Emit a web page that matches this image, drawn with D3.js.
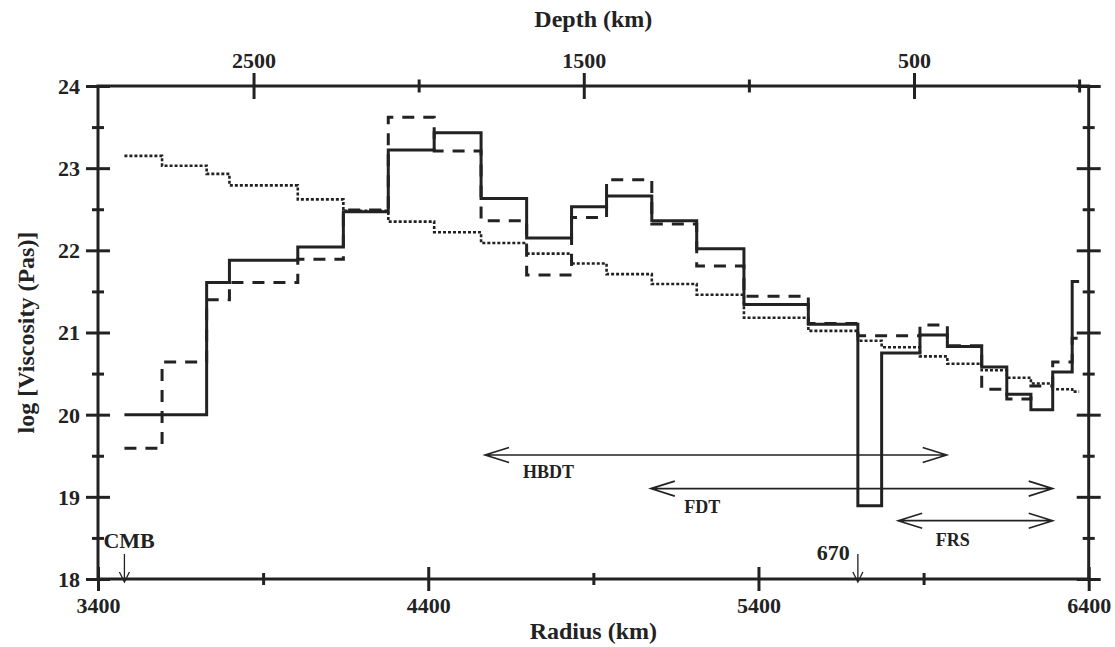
<!DOCTYPE html>
<html>
<head>
<meta charset="utf-8">
<script src="https://cdn.jsdelivr.net/npm/d3@7"></script>
<style>
  body { margin: 0; background: #fff; }
  svg text { font-family: "Liberation Serif", "Times New Roman", serif; font-weight: bold; fill: #222; }
</style>
</head>
<body>
<svg id="chart" width="1115" height="647"></svg>
<script>
// layer boundaries (radius, km) and log viscosity per layer
var layerTops = [3480, 3594, 3729, 3798, 4005, 4143, 4279, 4418, 4560, 4698, 4834, 4940,
  5077, 5213, 5356, 5551, 5701, 5773, 5889, 5972, 6076, 6152, 6225, 6291, 6350, 6371];
var solidValues = [20.00, 20.00, 21.61, 21.88, 22.04, 22.47, 23.22, 23.43, 22.63, 22.15, 22.53, 22.66,
  22.36, 22.02, 21.34, 21.10, 18.89, 20.75, 20.97, 20.83, 20.58, 20.25, 20.06, 20.52, 21.62];
var dashedValues = [19.59, 20.64, 21.40, 21.61, 21.89, 22.49, 23.62, 23.21, 22.36, 21.70, 22.40, 22.86,
  22.32, 21.81, 21.44, 21.11, 20.96, 20.96, 21.09, 20.84, 20.31, 20.19, 20.35, 20.64, 20.93];
var dottedValues = [23.15, 23.03, 22.93, 22.79, 22.62, 22.48, 22.35, 22.22, 22.09, 21.96, 21.84, 21.71,
  21.59, 21.46, 21.18, 21.02, 20.90, 20.82, 20.71, 20.62, 20.54, 20.45, 20.38, 20.31, 20.28];

var radiusMajor = [3400, 4400, 5400, 6400];
var radiusMinor = [3900, 4900, 5900];
var depthMajor = [2500, 1500, 500];
var depthMinor = [2000, 1000, 0];
var viscMajor = [18, 19, 20, 21, 22, 23, 24];
var viscMinor = [18.5, 19.5, 20.5, 21.5, 22.5, 23.5];

// range arrows: [label, from radius, to radius, level, label radius, label level]
var rangeArrows = [
  ['HBDT', 4572, 5970, 19.51, 4687, 19.23],
  ['FDT', 5074, 6291, 19.10, 5175, 18.80],
  ['FRS', 5823, 6291, 18.71, 5937, 18.40]
];
var earthRadius = 6371;
var markers = [['CMB', 3480], ['670', earthRadius - 670]];

var svg = d3.select('#chart');
var ink = '#222';
var plotL = 98, plotR = 1088.7, plotT = 86, plotB = 579;

var x = d3.scaleLinear().domain([3400, 6400]).range([plotL, plotR]);
var depth = d3.scaleLinear().domain([earthRadius - 3400, earthRadius - 6400]).range([plotL, plotR]);
var y = d3.scaleLinear().domain([18, 24]).range([plotB, plotT]);

// ---- axes: ticks cross the frame on both sides ----
function addAxis(axisFn, scale, values, size, labelled, transform, labelAttr) {
  var g = svg.append('g').attr('transform', transform)
    .call(axisFn(scale).tickValues(values).tickSize(size).tickFormat(labelled ? d3.format('d') : ''));
  g.select('.domain').remove();
  var horiz = (axisFn === d3.axisBottom || axisFn === d3.axisTop);
  g.selectAll('.tick line')
    .attr('stroke', ink).attr('stroke-width', 3)
    .attr(horiz ? 'y1' : 'x1', -size).attr(horiz ? 'y2' : 'x2', size);
  g.selectAll('.tick text').attr('font-size', 22).attr('fill', ink);
  if (labelAttr) labelAttr(g.selectAll('.tick text'));
  return g;
}

addAxis(d3.axisBottom, x, radiusMajor, 12, true, 'translate(0,' + plotB + ')',
  function (t) { t.attr('y', 34).attr('dy', null); });
addAxis(d3.axisBottom, x, radiusMinor, 6, false, 'translate(0,' + plotB + ')');
addAxis(d3.axisTop, depth, depthMajor, 13, true, 'translate(0,' + plotT + ')',
  function (t) { t.attr('y', -18).attr('dy', null); });
addAxis(d3.axisTop, depth, depthMinor, 6.5, false, 'translate(0,' + plotT + ')');
addAxis(d3.axisLeft, y, viscMajor, 12, true, 'translate(' + plotL + ',0)',
  function (t) { t.attr('x', -18).attr('dy', '0.34em'); });
addAxis(d3.axisLeft, y, viscMinor, 6, false, 'translate(' + plotL + ',0)');
addAxis(d3.axisRight, y, viscMajor, 12, false, 'translate(' + plotR + ',0)');
addAxis(d3.axisRight, y, viscMinor, 6, false, 'translate(' + plotR + ',0)');

svg.append('rect')
  .attr('x', plotL).attr('y', plotT)
  .attr('width', plotR - plotL).attr('height', plotB - plotT)
  .attr('fill', 'none').attr('stroke', ink).attr('stroke-width', 3);

// titles
svg.append('text').attr('x', (plotL + plotR) / 2).attr('y', 27)
  .attr('text-anchor', 'middle').attr('font-size', 24).text('Depth (km)');
svg.append('text').attr('x', (plotL + plotR) / 2).attr('y', 639)
  .attr('text-anchor', 'middle').attr('font-size', 24).text('Radius (km)');
svg.append('text')
  .attr('transform', 'translate(34,' + ((plotT + plotB) / 2) + ') rotate(-90)')
  .attr('text-anchor', 'middle').attr('font-size', 24).text('log [Viscosity (Pas)]');

// ---- step profiles ----
function stepPoints(values) {
  var pts = values.map(function (v, i) { return [layerTops[i], v]; });
  pts.push([layerTops[layerTops.length - 1], values[values.length - 1]]);
  return pts;
}
var stepLine = d3.line()
  .x(function (d) { return x(d[0]); })
  .y(function (d) { return y(d[1]); })
  .curve(d3.curveStepAfter);

var profiles = [
  { values: dottedValues, dash: '3,2', width: 2.6 },
  { values: dashedValues, dash: '12,9', width: 3 },
  { values: solidValues, dash: null, width: 3 }
];
profiles.forEach(function (p) {
  svg.append('path')
    .attr('d', stepLine(stepPoints(p.values)))
    .attr('fill', 'none')
    .attr('stroke', ink)
    .attr('stroke-width', p.width)
    .attr('stroke-dasharray', p.dash);
});

// ---- range arrows ----
function headPath(xTip, yTip, dir, len, half) {
  return 'M' + (xTip + dir * len) + ',' + (yTip - half) + 'L' + xTip + ',' + yTip +
    'L' + (xTip + dir * len) + ',' + (yTip + half);
}
rangeArrows.forEach(function (a) {
  var x0 = x(a[1]), x1 = x(a[2]), yy = y(a[3]);
  var d = 'M' + x0 + ',' + yy + 'L' + x1 + ',' + yy + headPath(x0, yy, 1, 24, 7.5) + headPath(x1, yy, -1, 24, 7.5);
  svg.append('path').attr('d', d).attr('fill', 'none').attr('stroke', ink).attr('stroke-width', 1.6);
  svg.append('text').attr('x', x(a[4])).attr('y', y(a[5]))
    .attr('font-size', 18).text(a[0]);
});

// ---- CMB and 670 markers ----
markers.forEach(function (m, i) {
  var xm = x(m[1]);
  svg.append('path')
    .attr('d', 'M' + xm + ',554L' + xm + ',' + (plotB + 3) +
      'M' + (xm - 5) + ',' + (plotB - 7) + 'L' + xm + ',' + (plotB + 3) + 'L' + (xm + 5) + ',' + (plotB - 7))
    .attr('fill', 'none').attr('stroke', ink).attr('stroke-width', 1.3);
  svg.append('text')
    .attr('x', i === 0 ? xm - 21 : xm - 8)
    .attr('y', i === 0 ? 548 : 560)
    .attr('text-anchor', i === 0 ? 'start' : 'end')
    .attr('font-size', 22).text(m[0]);
});
</script>
</body>
</html>
